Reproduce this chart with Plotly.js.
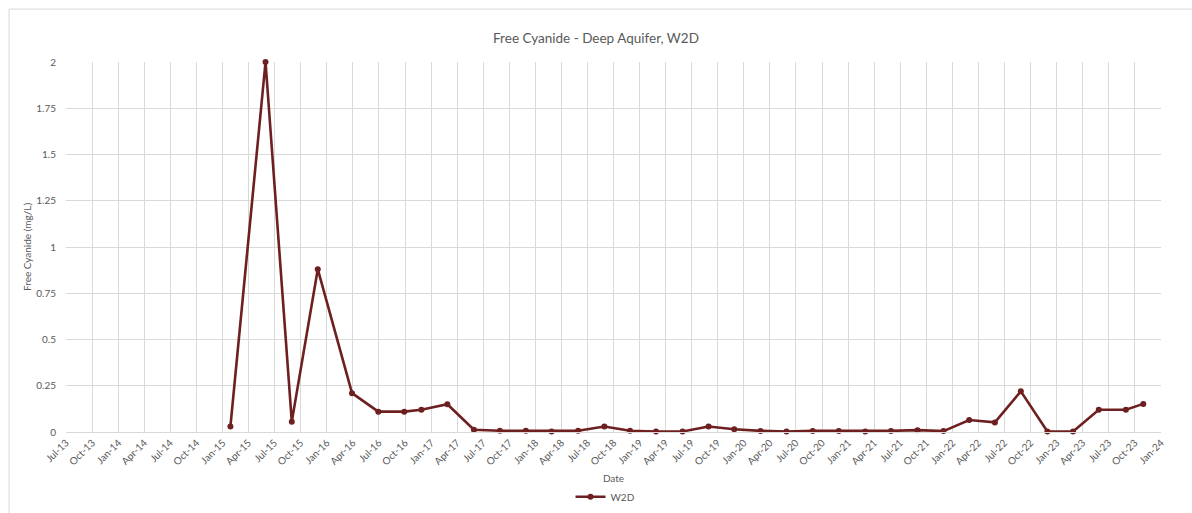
<!DOCTYPE html>
<html>
<head>
<meta charset="utf-8">
<script src="https://cdn.plot.ly/plotly-3.0.1.min.js"></script>
<style>
  html, body { margin: 0; padding: 0; background: #ffffff; }
  #chart { width: 1192px; height: 513px; }
</style>
</head>
<body>
<div id="chart"></div>
<script>
// Sampling dates for monitoring well W2D
const sampleDates = [
  "2015-01-28", "2015-05-31", "2015-08-31", "2015-11-30",
  "2016-03-29", "2016-06-29", "2016-09-28", "2016-11-27",
  "2017-02-26", "2017-05-30", "2017-08-29", "2017-11-28",
  "2018-02-26", "2018-05-30", "2018-08-30", "2018-11-28",
  "2019-02-27", "2019-05-31", "2019-08-30", "2019-11-28",
  "2020-02-28", "2020-05-29", "2020-08-29", "2020-11-28",
  "2021-03-01", "2021-05-30", "2021-08-31", "2021-11-30",
  "2022-02-28", "2022-05-29", "2022-08-28", "2022-11-29",
  "2023-02-27", "2023-05-28", "2023-08-31", "2023-10-31"
];

// Free cyanide concentration (mg/L)
const freeCyanide = [
  0.03, 2.0, 0.056, 0.88,
  0.21, 0.11, 0.11, 0.12,
  0.15, 0.012, 0.007, 0.007,
  0.003, 0.007, 0.03, 0.007,
  0.003, 0.003, 0.03, 0.015,
  0.006, 0.003, 0.006, 0.006,
  0.003, 0.006, 0.01, 0.005,
  0.065, 0.052, 0.22, 0.003,
  0.003, 0.12, 0.12, 0.152
];

const seriesName = "W2D";
const chartTitle = "Free Cyanide - Deep Aquifer, W2D";
const xTitle = "Date";
const yTitle = "Free Cyanide (mg/L)";

const maroon = "#6e1f1f";
const gridGrey = "#d9d9d9";
const textGrey = "#595959";
const fontFamily = "Lato, 'Open Sans', sans-serif";

const trace = {
  x: sampleDates,
  y: freeCyanide,
  type: "scatter",
  mode: "lines+markers",
  name: seriesName,
  line: { color: maroon, width: 2.6 },
  marker: { color: maroon, size: 6 },
  cliponaxis: false
};

const layout = {
  width: 1192,
  height: 513,
  margin: { l: 66, r: 31, t: 62, b: 81, autoexpand: false },
  paper_bgcolor: "#ffffff",
  plot_bgcolor: "#ffffff",
  font: { family: fontFamily, color: textGrey, size: 10 },
  title: {
    text: chartTitle,
    font: { family: fontFamily, size: 13.5, color: textGrey },
    x: 0.5, xanchor: "center",
    y: 0.925, yanchor: "middle"
  },
  showlegend: true,
  legend: {
    orientation: "h",
    x: 0.4927, xanchor: "center",
    y: -0.175, yanchor: "middle",
    font: { family: fontFamily, size: 10, color: textGrey }
  },
  xaxis: {
    type: "date",
    range: ["2013-07-01", "2024-01-01"],
    tick0: "2013-07-01",
    dtick: "M3",
    tickformat: "%b-%y",
    tickangle: -45,
    ticks: "",
    showgrid: true,
    gridcolor: gridGrey,
    gridwidth: 1,
    showline: true,
    linecolor: gridGrey,
    linewidth: 1,
    zeroline: false,
    automargin: false,
    tickfont: { family: fontFamily, size: 10, color: textGrey },
    title: {
      text: xTitle,
      font: { family: fontFamily, size: 10, color: textGrey },
      standoff: 8
    }
  },
  yaxis: {
    range: [0, 2],
    dtick: 0.25,
    tick0: 0,
    ticks: "",
    showgrid: true,
    gridcolor: gridGrey,
    gridwidth: 1,
    showline: false,
    zeroline: false,
    automargin: false,
    ticklabelstandoff: 9,
    tickfont: { family: fontFamily, size: 10, color: textGrey },
    title: {
      text: yTitle,
      font: { family: fontFamily, size: 10, color: textGrey },
      standoff: 2
    }
  },
  shapes: [
    {
      // outer chart frame
      type: "rect",
      xref: "paper", yref: "paper",
      x0: -0.052, x1: 1.04,
      y0: -0.25, y1: 1.143,
      line: { color: gridGrey, width: 1 },
      fillcolor: "rgba(0,0,0,0)",
      layer: "below"
    }
  ]
};

Plotly.newPlot("chart", [trace], layout, { displayModeBar: false, staticPlot: true });
</script>
</body>
</html>
